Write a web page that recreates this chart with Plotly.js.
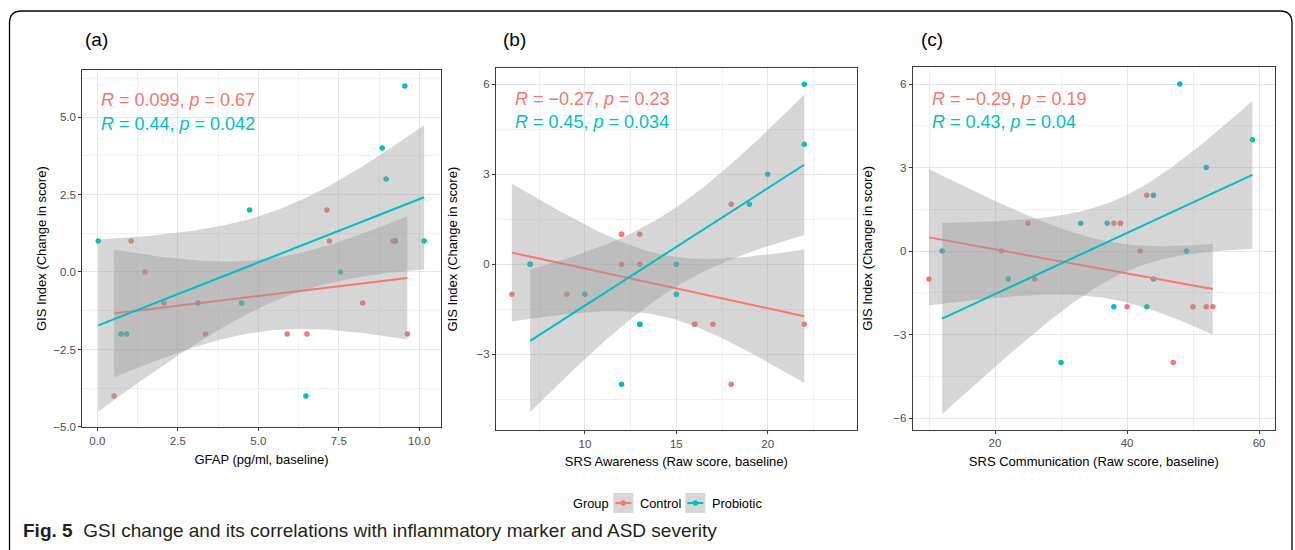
<!DOCTYPE html>
<html><head><meta charset="utf-8">
<script src="https://cdn.plot.ly/plotly-3.0.1.min.js"></script>
<style>html,body{margin:0;padding:0;background:#fff;}#chart{width:1295px;height:550px;}</style>
</head><body><div id="chart"></div>
<script>
// ---------------- data ----------------
const groupNames = ["Control", "Probiotic"];
const groupColors = ["#F8766D", "#00BFC4"];

// (a) GFAP (pg/ml, baseline)
const gfapControlX   = [0.52, 1.05, 1.48, 2.07, 3.36, 5.90, 6.51, 7.13, 7.21, 8.24, 9.18, 9.63];
const gfapControlY   = [-4, 1, 0, -1, -2, -2, -2, 2, 1, -1, 1, -2];
const gfapProbioticX = [0.03, 0.74, 0.91, 3.13, 4.48, 4.73, 6.48, 7.55, 8.85, 8.97, 9.26, 9.55, 10.15];
const gfapProbioticY = [1, -2, -2, -1, -1, 2, -4, 0, 4, 3, 1, 6, 1];

// (b) SRS Awareness (raw score, baseline) — includes overlapping (coincident) points
const awareControlX   = [6, 9, 12, 12, 12, 13, 13, 16, 16, 17, 18, 18, 22];
const awareControlY   = [-1, -1, 1, 1, 0, 1, 0, -2, -2, -2, 2, -4, -2];
const awareProbioticX = [7, 7, 10, 12, 13, 13, 15, 15, 19, 20, 22, 22];
const awareProbioticY = [0, 0, -1, -4, -2, -2, 0, -1, 2, 3, 4, 6];

// (c) SRS Communication (raw score, baseline)
const commControlX   = [10, 21, 25, 26, 38, 39, 40, 42, 43, 47, 50, 52, 53];
const commControlY   = [-1, 0, 1, -1, 1, 1, -2, 0, 2, -4, -2, -2, -2];
const commProbioticX = [12, 22, 30, 33, 37, 38, 39, 43, 44, 44, 48, 49, 52, 59];
const commProbioticY = [0, -1, -4, 1, 1, -2, 1, -2, 2, -1, 6, 0, 3, 4];

// correlation labels
const statsA = ["<i>R</i> = 0.099, <i>p</i> = 0.67", "<i>R</i> = 0.44, <i>p</i> = 0.042"];
const statsB = ["<i>R</i> = \u22120.27, <i>p</i> = 0.23", "<i>R</i> = 0.45, <i>p</i> = 0.034"];
const statsC = ["<i>R</i> = \u22120.29, <i>p</i> = 0.19", "<i>R</i> = 0.43, <i>p</i> = 0.04"];

// axis titles & tick labels
const panelLabels = ["(a)", "(b)", "(c)"];
const xTitles = ["GFAP (pg/ml, baseline)", "SRS Awareness (Raw score, baseline)", "SRS Communication (Raw score, baseline)"];
const yTitle = "GIS Index (Change in score)";
const xTickA = [0, 2.5, 5, 7.5, 10], xTickTextA = ["0.0", "2.5", "5.0", "7.5", "10.0"];
const yTickA = [-5, -2.5, 0, 2.5, 5], yTickTextA = ["\u22125.0", "\u22122.5", "0.0", "2.5", "5.0"];
const xTickB = [10, 15, 20], xTickTextB = ["10", "15", "20"];
const yTickB = [-3, 0, 3, 6], yTickTextB = ["\u22123", "0", "3", "6"];
const xTickC = [20, 40, 60], xTickTextC = ["20", "40", "60"];
const yTickC = [-6, -3, 0, 3, 6], yTickTextC = ["\u22126", "\u22123", "0", "3", "6"];
const captionBold = "Fig. 5";
const captionText = "GSI change and its correlations with inflammatory marker and ASD severity";
const legendTitle = "Group";

// ---------------- helpers ----------------
const W = 1295, H = 550;
const px = x => x / W;
const py = y => 1 - y / H;
const T975 = {8: 2.306, 9: 2.262, 10: 2.228, 11: 2.201, 12: 2.179, 13: 2.160, 14: 2.145, 15: 2.131, 16: 2.120};

// linear model + 95% confidence band (as geom_smooth(method = "lm"))
function lmBand(xs, ys) {
  const n = xs.length;
  const mx = xs.reduce((s, v) => s + v, 0) / n;
  const my = ys.reduce((s, v) => s + v, 0) / n;
  let sxx = 0, sxy = 0;
  for (let i = 0; i < n; i++) { const dx = xs[i] - mx; sxx += dx * dx; sxy += dx * (ys[i] - my); }
  const b = sxy / sxx, a = my - b * mx;
  let ssr = 0;
  for (let i = 0; i < n; i++) { const r = ys[i] - (a + b * xs[i]); ssr += r * r; }
  const s = Math.sqrt(ssr / (n - 2)), t = T975[n - 2];
  const lo = Math.min(...xs), hi = Math.max(...xs);
  const gx = [], fit = [], up = [], dn = [];
  for (let k = 0; k < 80; k++) {
    const x = lo + (hi - lo) * k / 79;
    const f = a + b * x;
    const se = s * Math.sqrt(1 / n + (x - mx) * (x - mx) / sxx);
    gx.push(x); fit.push(f); up.push(f + t * se); dn.push(f - t * se);
  }
  return {gx, fit, up, dn};
}

const traces = [];
function addPanel(xa, ya, cx, cy, pxs, pys) {
  // points (Probiotic first, then Control)
  traces.push({type: "scatter", mode: "markers", x: pxs, y: pys, xaxis: xa, yaxis: ya,
    marker: {color: groupColors[1], size: 5.5}, hoverinfo: "skip", showlegend: false});
  traces.push({type: "scatter", mode: "markers", x: cx, y: cy, xaxis: xa, yaxis: ya,
    marker: {color: groupColors[0], size: 5.5}, hoverinfo: "skip", showlegend: false});
  [[cx, cy, 0], [pxs, pys, 1]].forEach(([xs, ys, g]) => {
    const m = lmBand(xs, ys);
    traces.push({type: "scatter", mode: "lines", xaxis: xa, yaxis: ya,
      x: m.gx.concat(m.gx.slice().reverse()), y: m.up.concat(m.dn.slice().reverse()),
      fill: "toself", fillcolor: "rgba(153,153,153,0.4)", line: {width: 0},
      hoverinfo: "skip", showlegend: false});
    traces.push({type: "scatter", mode: "lines", xaxis: xa, yaxis: ya, x: m.gx, y: m.fit,
      line: {color: groupColors[g], width: 2}, hoverinfo: "skip", name: groupNames[g], showlegend: false});
  });
}
addPanel("x", "y", gfapControlX, gfapControlY, gfapProbioticX, gfapProbioticY);
addPanel("x2", "y2", awareControlX, awareControlY, awareProbioticX, awareProbioticY);
addPanel("x3", "y3", commControlX, commControlY, commProbioticX, commProbioticY);

const FONT = "Liberation Sans, Arial, Helvetica, sans-serif";
const gridCol = "#E6E6E6", minorCol = "#F0F0F0";
function xAx(dom, range, tv, tt, title, anchor, minorDt) {
  return {domain: [px(dom[0]), px(dom[1])], range: range, anchor: anchor,
    tickmode: "array", tickvals: tv, ticktext: tt,
    showgrid: true, gridcolor: gridCol, gridwidth: 1,
    minor: {dtick: minorDt, tick0: 0, showgrid: true, gridcolor: minorCol, gridwidth: 1, ticks: ""},
    zeroline: false, showline: true, mirror: true, linecolor: "#3A3A3A", linewidth: 1,
    ticks: "outside", ticklen: 3, tickcolor: "#3A3A3A", tickwidth: 1,
    tickfont: {size: 11.5, color: "#4D4D4D", family: FONT},
    title: {text: title, font: {size: 13, color: "#000", family: FONT}, standoff: 8}};
}
function yAx(dom, range, tv, tt, anchor, minorDt, standoff) {
  return {domain: [py(dom[1]), py(dom[0])], range: range, anchor: anchor,
    tickmode: "array", tickvals: tv, ticktext: tt,
    showgrid: true, gridcolor: gridCol, gridwidth: 1,
    minor: {dtick: minorDt, tick0: 0, showgrid: true, gridcolor: minorCol, gridwidth: 1, ticks: ""},
    zeroline: false, showline: true, mirror: true, linecolor: "#3A3A3A", linewidth: 1,
    ticks: "outside", ticklen: 3, tickcolor: "#3A3A3A", tickwidth: 1,
    tickfont: {size: 11.5, color: "#4D4D4D", family: FONT},
    title: {text: yTitle, font: {size: 13, color: "#000", family: FONT}, standoff: standoff}};
}

const annotations = [];
function txt(x, y, text, size, color, anchor) {
  annotations.push({xref: "paper", yref: "paper", x: px(x), y: py(y), text: text, showarrow: false,
    xanchor: anchor || "left", yanchor: "middle", font: {size: size, color: color, family: FONT}});
}
// panel labels
txt(83, 39, panelLabels[0], 19, "#000");
txt(501, 39, panelLabels[1], 19, "#000");
txt(919, 39, panelLabels[2], 19, "#000");
// correlation labels
txt(99, 100, statsA[0], 18, groupColors[0]); txt(99, 123.5, statsA[1], 18, groupColors[1]);
txt(513, 98.5, statsB[0], 18, groupColors[0]); txt(513, 122, statsB[1], 18, groupColors[1]);
txt(930, 98.5, statsC[0], 18, groupColors[0]); txt(930, 122, statsC[1], 18, groupColors[1]);
// legend texts
txt(590.5, 503, legendTitle, 12.8, "#000", "center");
txt(637.5, 503, groupNames[0], 12.8, "#000");
txt(710, 503, groupNames[1], 12.8, "#000");
// caption
txt(21, 530, "<b>" + captionBold + "</b>&nbsp; " + captionText, 19, "#231F20");

const shapes = [];
// legend keys
[[613.3, 0], [685.3, 1]].forEach(([x0, g]) => {
  shapes.push({type: "rect", xref: "paper", yref: "paper", x0: px(x0), x1: px(x0 + 20), y0: py(513), y1: py(493),
    fillcolor: "#D6D6D6", line: {width: 0}});
  shapes.push({type: "line", xref: "paper", yref: "paper", x0: px(x0 + 2), x1: px(x0 + 18), y0: py(503), y1: py(503),
    line: {color: groupColors[g], width: 2}});
  shapes.push({type: "circle", xref: "paper", yref: "paper", x0: px(x0 + 7.3), x1: px(x0 + 12.7), y0: py(505.7), y1: py(500.3),
    fillcolor: groupColors[g], line: {width: 0}});
});
// outer rounded frame
const P = (x, y) => px(x) + "," + py(y);
shapes.push({type: "path", xref: "paper", yref: "paper",
  path: "M" + P(9.5, 560) + " L" + P(9.5, 23) + " Q" + P(9.5, 11) + " " + P(21.5, 11) +
        " L" + P(1280, 11) + " Q" + P(1292, 11) + " " + P(1292, 23) + " L" + P(1292, 560),
  line: {color: "#000", width: 1.3}});

const layout = {
  width: W, height: H, autosize: false,
  margin: {l: 0, r: 0, t: 0, b: 0},
  paper_bgcolor: "#fff", plot_bgcolor: "#fff",
  font: {family: FONT},
  showlegend: false,
  xaxis:  xAx([82.3, 440.7], [-0.466, 10.665], xTickA, xTickTextA, xTitles[0], "y", 1.25),
  yaxis:  yAx([70, 427.3], [-5.01, 6.516], yTickA, yTickTextA, "x", 1.25, 3),
  xaxis2: xAx([496, 856.7], [5.13, 24.87], xTickB, xTickTextB, xTitles[1], "y2", 2.5),
  yaxis2: yAx([68.3, 430], [-5.523, 6.533], yTickB, yTickTextB, "x2", 1.5, 16),
  xaxis3: xAx([912.7, 1275], [7.53, 62.42], xTickC, xTickTextC, xTitles[2], "y3", 10),
  yaxis3: yAx([67.3, 429.5], [-6.41, 6.60], yTickC, yTickTextC, "x3", 1.5, 17),
  annotations: annotations,
  shapes: shapes
};

Plotly.newPlot("chart", traces, layout, {staticPlot: true, displayModeBar: false});
</script>
</body></html>
